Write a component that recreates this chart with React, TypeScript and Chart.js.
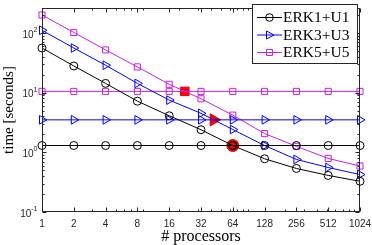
import React, { useEffect, useRef } from 'react';
import { Chart, registerables } from 'chart.js';
Chart.register(...registerables);

const processors = [1, 2, 4, 8, 16, 32, 64, 128, 256, 512, 1024];
const xTickLabels = ['1', '2', '4', '8', '16', '32', '64', '128', '256', '512', '1024'];
const erk1Time = [56, 28, 14.3, 7.2, 4.1, 2.39, 1.3, 0.78, 0.536, 0.41, 0.327];
const erk3Time = [111, 56, 28.8, 14.3, 7.5, 4.5, 2.41, 1.3, 0.76, 0.557, 0.424];
const erk5Time = [200, 102, 52, 27, 13.8, 7.9, 4.2, 2.06, 1.26, 0.79, 0.59];
const erk1Level = 1.3;
const erk3Level = 3.5;
const erk5Level = 10.5;
const crossX = [64, 42.2, 22.5];
const crossY = [1.3, 3.5, 10.5];
const yTickValues = [0.1, 1, 10, 100];
const yTickExponents = ['-1', '0', '1', '2'];
const seriesNames = ['ERK1+U1', 'ERK3+U3', 'ERK5+U5'];

const COLORS = ['#000000', '#0000ff', 'rgb(200,30,230)'];
const STYLES = ['circle', 'triangle', 'rect'];
const RADII = [4, 5, 4.3];
const RED_RADII = [6, 7, 6];
const ROT = [0, 90, 0];
const AXIS = '#262626';
const SANS = '"Liberation Sans", Arial, Helvetica, sans-serif';
const SERIF = '"Liberation Serif", "Times New Roman", serif';

function drawMarker(ctx: CanvasRenderingContext2D, style: string, x: number, y: number, color: string) {
  ctx.beginPath();
  if (style === 'circle') {
    ctx.arc(x, y, 3.8, 0, Math.PI * 2);
  } else if (style === 'triangle') {
    ctx.moveTo(x + 4.5, y);
    ctx.lineTo(x - 3, y - 4);
    ctx.lineTo(x - 3, y + 4);
    ctx.closePath();
  } else {
    ctx.rect(x - 3, y - 3, 6, 6);
  }
  ctx.strokeStyle = color;
  ctx.lineWidth = 1;
  ctx.stroke();
}

const decor = {
  id: 'decor',
  afterDraw(chart: any) {
    const { ctx, chartArea: ca, scales } = chart;
    const xs = scales.x;
    const ys = scales.y;
    const L = Math.round(ca.left) + 0.5;
    const R = Math.round(ca.right) - 0.5;
    const T = Math.round(ca.top) + 0.5;
    const B = Math.round(ca.bottom) - 0.5;
    ctx.save();
    ctx.strokeStyle = AXIS;
    ctx.lineWidth = 1;
    ctx.strokeRect(L, T, R - L, B - T);
    ctx.beginPath();
    for (const v of processors) {
      const px = Math.round(xs.getPixelForValue(v)) + 0.5;
      ctx.moveTo(px, B); ctx.lineTo(px, B - 4);
      ctx.moveTo(px, T); ctx.lineTo(px, T + 4);
    }
    for (let k = 0; k <= 3; k++) {
      for (let n = 2; n <= 9; n++) {
        const v = n * Math.pow(10, k);
        if (v > 1024 || processors.includes(v)) continue;
        const px = Math.round(xs.getPixelForValue(v)) + 0.5;
        ctx.moveTo(px, B); ctx.lineTo(px, B - 2);
        ctx.moveTo(px, T); ctx.lineTo(px, T + 2);
      }
    }
    for (const v of yTickValues) {
      const py = Math.round(ys.getPixelForValue(v)) + 0.5;
      ctx.moveTo(L, py); ctx.lineTo(L + 4, py);
      ctx.moveTo(R, py); ctx.lineTo(R - 4, py);
    }
    for (let k = -1; k <= 2; k++) {
      for (let n = 2; n <= 9; n++) {
        const v = n * Math.pow(10, k);
        if (v > ys.max) continue;
        const py = Math.round(ys.getPixelForValue(v)) + 0.5;
        ctx.moveTo(L, py); ctx.lineTo(L + 2, py);
        ctx.moveTo(R, py); ctx.lineTo(R - 2, py);
      }
    }
    ctx.stroke();

    ctx.fillStyle = AXIS;
    ctx.textBaseline = 'middle';
    yTickValues.forEach((v, i) => {
      const py = ys.getPixelForValue(v);
      ctx.font = `7px ${SANS}`;
      const ew = ctx.measureText(yTickExponents[i]).width;
      const right = 37.5;
      ctx.textAlign = 'left';
      ctx.fillText(yTickExponents[i], right - ew, py - 3);
      ctx.font = `10px ${SANS}`;
      ctx.textAlign = 'right';
      ctx.fillText('10', right - ew, py + 2);
    });

    ctx.fillStyle = '#000';
    ctx.font = `16px ${SERIF}`;
    ctx.textAlign = 'center';
    ctx.textBaseline = 'middle';
    ctx.fillText('# processors', (ca.left + ca.right) / 2, 237);
    ctx.save();
    ctx.translate(9, (ca.top + ca.bottom) / 2);
    ctx.rotate(-Math.PI / 2);
    ctx.font = `15px ${SERIF}`;
    ctx.fillText('time [seconds]', 0, 0);
    ctx.restore();

    const lx = 252.5, ly = 4.5, lw = 105, lh = 59;
    ctx.fillStyle = '#fff';
    ctx.fillRect(lx, ly, lw, lh);
    ctx.strokeStyle = AXIS;
    ctx.strokeRect(lx, ly, lw, lh);
    const rows = [17, 34.5, 52];
    seriesNames.forEach((name, i) => {
      const y = rows[i];
      ctx.beginPath();
      ctx.moveTo(257, y + 0.5);
      ctx.lineTo(282, y + 0.5);
      ctx.strokeStyle = COLORS[i];
      ctx.lineWidth = 1;
      ctx.stroke();
      drawMarker(ctx, STYLES[i], 269.5, y + 0.5, COLORS[i]);
      ctx.fillStyle = '#000';
      ctx.font = `15.5px ${SERIF}`;
      ctx.textAlign = 'left';
      ctx.textBaseline = 'middle';
      ctx.fillText(name, 283, y + 1);
    });
    ctx.restore();
  },
};

export default function App() {
  const ref = useRef<HTMLCanvasElement>(null);
  useEffect(() => {
    if (!ref.current) return;
    const times = [erk1Time, erk3Time, erk5Time];
    const levels = [erk1Level, erk3Level, erk5Level];
    const datasets: any[] = [];
    for (let i = 0; i < 3; i++) {
      const common = {
        borderColor: COLORS[i],
        borderWidth: 1,
        pointStyle: STYLES[i],
        pointRadius: RADII[i],
        pointRotation: ROT[i],
        pointBorderColor: COLORS[i],
        pointBorderWidth: 1,
        pointBackgroundColor: 'rgba(0,0,0,0)',
        tension: 0,
        clip: false,
        fill: false,
      };
      datasets.push({ ...common, label: seriesNames[i], data: processors.map((x, j) => ({ x, y: times[i][j] })) });
      datasets.push({ ...common, label: seriesNames[i] + ' level', data: processors.map((x) => ({ x, y: levels[i] })) });
    }
    for (let i = 0; i < 3; i++) {
      datasets.push({
        label: 'cross ' + i,
        data: [{ x: crossX[i], y: crossY[i] }],
        showLine: false,
        pointStyle: STYLES[i],
        pointRotation: ROT[i],
        pointRadius: RED_RADII[i],
        pointBackgroundColor: '#ff0000',
        pointBorderColor: '#e00000',
        pointBorderWidth: 1,
        clip: false,
      });
    }
    const chart = new Chart(ref.current, {
      type: 'line',
      data: { datasets },
      options: {
        responsive: false,
        animation: false,
        devicePixelRatio: 1,
        events: [],
        layout: { padding: { left: 0, right: 12, top: 1, bottom: 0 } },
        plugins: { legend: { display: false }, tooltip: { enabled: false } },
        scales: {
          x: {
            type: 'logarithmic',
            min: 1,
            max: 1024,
            position: 'bottom',
            grid: { display: false, drawTicks: false },
            border: { display: false },
            afterBuildTicks: (s: any) => { s.ticks = processors.map((v) => ({ value: v })); },
            afterFit: (s: any) => { s.height = 33; s.paddingLeft = 0; s.paddingRight = 0; },
            ticks: {
              autoSkip: false,
              maxRotation: 0,
              minRotation: 0,
              padding: 6,
              color: AXIS,
              font: { family: SANS, size: 10 },
              callback: (_v: any, i: number) => xTickLabels[i],
            },
          },
          y: {
            type: 'logarithmic',
            min: 0.1,
            max: 262,
            grid: { display: false, drawTicks: false },
            border: { display: false },
            ticks: { display: false },
            afterBuildTicks: (s: any) => { s.ticks = yTickValues.map((v) => ({ value: v })); },
            afterFit: (s: any) => { s.width = 42; s.paddingTop = 0; s.paddingBottom = 0; },
          },
        },
      } as any,
      plugins: [decor],
    });
    return () => chart.destroy();
  }, []);
  return (
    <div style={{ position: 'fixed', left: 0, top: 0, width: 372, height: 245, background: '#fff' }}>
      <canvas ref={ref} width={372} height={245} style={{ width: 372, height: 245, display: 'block' }} />
    </div>
  );
}
